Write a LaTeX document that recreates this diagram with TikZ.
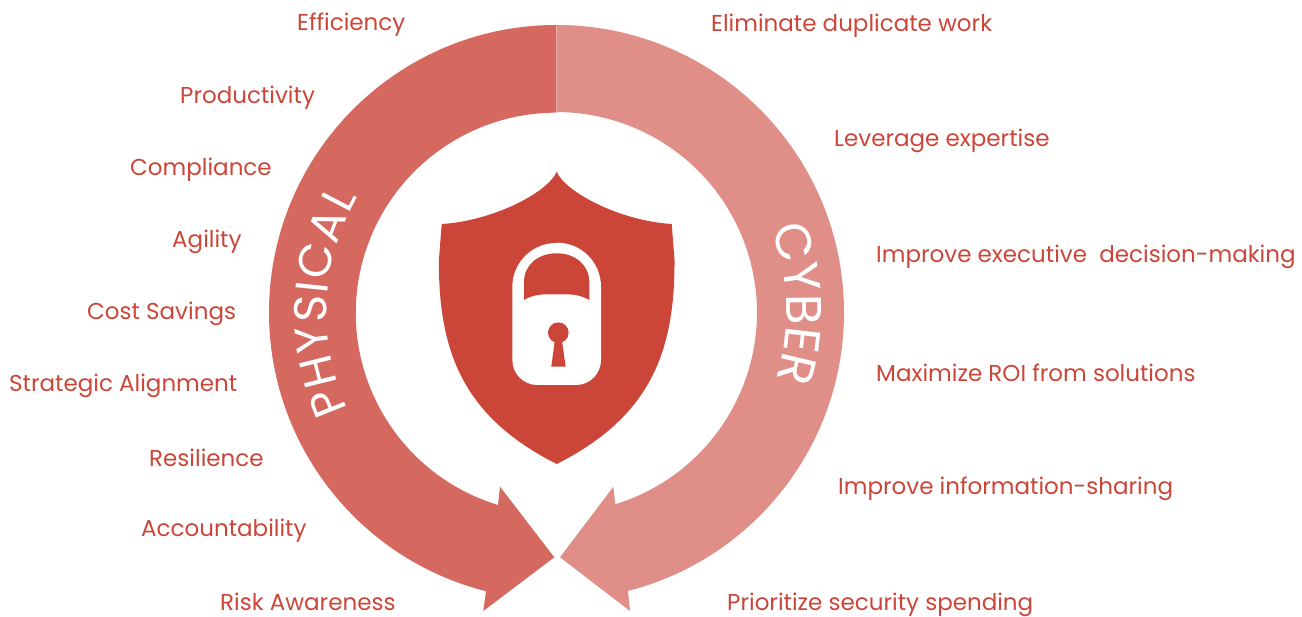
\documentclass[tikz,border=0pt]{standalone}
\usepackage{fontspec}
\setmainfont{Poppins}
\usepackage{xcolor}
\usetikzlibrary{decorations.text}

\definecolor{shieldred}{HTML}{CB4639}
\definecolor{physicalred}{HTML}{D5685F}
\definecolor{cyberred}{HTML}{E08F88}

\newfontfamily\bandfont{Poppins}

\tikzset{
    benefit/.style={anchor=base west, inner sep=0pt, text=shieldred, font=\fontsize{23}{27}\selectfont},
    bandtext/.style={decorate, decoration={text along path, text align={fit to path}, text color=white, text format delimiters={|}{|}, text={#1}}}
}

\begin{document}
\begin{tikzpicture}[x=1pt,y=1pt]
    \useasboundingbox (0,0) rectangle (1302,617);

    % Physical arrow
    \fill[physicalred] (556.5,592) arc[start angle=90, end angle=255.8, radius=287.5]
        -- (483.3,6) -- (554.3,59.7) -- (500,130.3)
        -- (498,112) arc[start angle=253.1, end angle=90, radius=200.5] -- cycle;

    % Cyber arrow
    \fill[cyberred] (556.5,592) arc[start angle=90, end angle=-75.6, radius=287.5]
        -- (630,6) -- (560,59.7) -- (613.3,130.3)
        -- (615.4,112.8) arc[start angle=-72.9, end angle=90, radius=200.5] -- cycle;

    % Band titles
    \path[bandtext={|\bandfont\fontsize{46}{46}\selectfont|PHYSICAL}]
        (348.1,207.3) arc[start angle=205, end angle=150, radius=230];
    \path[bandtext={|\bandfont\fontsize{50}{50}\selectfont|CYBER}]
        (770.8,388.1) arc[start angle=21.3, end angle=-17, radius=230];

    % Shield
    \fill[shieldred] (556.7,445.3) .. controls (565,425) and (620,396) .. (671.7,393)
        -- (674.5,357) .. controls (675,265) and (650,200) .. (556.7,153)
        .. controls (463.4,200) and (438.4,265) .. (438.9,357)
        -- (441.7,393) .. controls (493.4,396) and (548.4,425) .. (556.7,445.3) -- cycle;

    % Padlock
    \fill[white] (512.3,330) arc[start angle=180, end angle=90, radius=44]
        -- (557,374.3) arc[start angle=90, end angle=0, radius=44]
        -- (601,257) arc[start angle=0, end angle=-90, radius=25]
        -- (537.3,232) arc[start angle=270, end angle=180, radius=25] -- cycle;
    \fill[shieldred] (524,317) -- (524,335)
        .. controls (524,352) and (538,363.7) .. (556.7,363.7)
        .. controls (575,363.7) and (589.3,352) .. (589.3,335)
        -- (589.3,317) .. controls (578,323.5) and (568,322.7) .. (556.7,322.7)
        .. controls (545,322.7) and (535,323.5) .. (524,317) -- cycle;
    \fill[shieldred] (558.3,284.3) circle (10.3);
    \fill[shieldred] (555,278) -- (561.7,278) -- (565.7,250.3) -- (551.3,250.3) -- cycle;

    % Physical benefits
    \node[benefit] (efficiency) at (297,586) {Efficiency};
    \node[benefit] (productivity) at (180,513) {Productivity};
    \node[benefit] (compliance) at (130,441) {Compliance};
    \node[benefit] (agility) at (172,369) {Agility};
    \node[benefit] (savings) at (87,297) {Cost Savings};
    \node[benefit] (alignment) at (9,225) {Strategic Alignment};
    \node[benefit] (resilience) at (149,150) {Resilience};
    \node[benefit] (accountability) at (141,80) {Accountability};
    \node[benefit] (awareness) at (220,6) {Risk Awareness};

    % Cyber benefits
    \node[benefit] (duplicate) at (711,585) {Eliminate duplicate work};
    \node[benefit] (expertise) at (834,470) {Leverage expertise};
    \node[benefit] (decision) at (876,354) {Improve executive\ \ decision-making};
    \node[benefit] (roi) at (876,235) {Maximize ROI from solutions};
    \node[benefit] (sharing) at (838,122) {Improve information-sharing};
    \node[benefit] (spending) at (727,6) {Prioritize security spending};
\end{tikzpicture}
\end{document}
